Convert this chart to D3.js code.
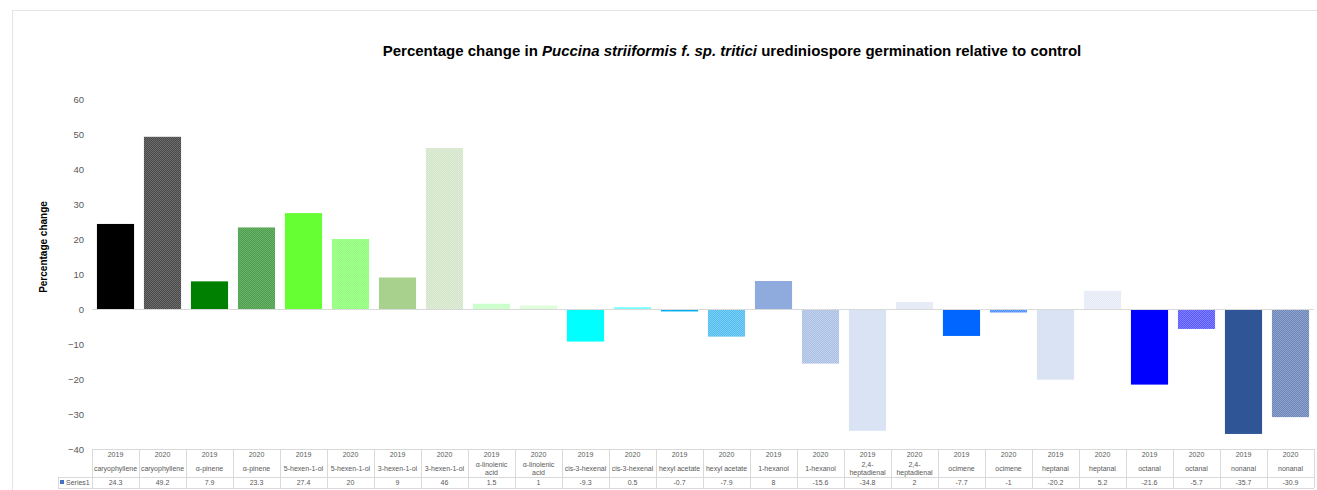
<!DOCTYPE html>
<html>
<head>
<meta charset="utf-8">
<script src="https://cdn.jsdelivr.net/npm/d3@7"></script>
<style>
  html, body { margin: 0; padding: 0; background: #fff; }
  svg { display: block; font-family: "Liberation Sans", Arial, sans-serif; }
</style>
</head>
<body>
<svg id="chart" width="1317" height="490"></svg>
<script>
// Germination change per compound and trial year
const years = ["2019","2020","2019","2020","2019","2020","2019","2020","2019","2020","2019","2020","2019","2020","2019","2020","2019","2020","2019","2020","2019","2020","2019","2020","2019","2020"];
const compounds = ["caryophyllene","caryophyllene","α-pinene","α-pinene","5-hexen-1-ol","5-hexen-1-ol","3-hexen-1-ol","3-hexen-1-ol","α-linolenic acid","α-linolenic acid","cis-3-hexenal","cis-3-hexenal","hexyl acetate","hexyl acetate","1-hexanol","1-hexanol","2,4-heptadienal","2,4-heptadienal","ocimene","ocimene","heptanal","heptanal","octanal","octanal","nonanal","nonanal"];
const values = [24.3,49.2,7.9,23.3,27.4,20,9,46,1.5,1,-9.3,0.5,-0.7,-7.9,8,-15.6,-34.8,2,-7.7,-1,-20.2,5.2,-21.6,-5.7,-35.7,-30.9];
const yTicks = [-40,-30,-20,-10,0,10,20,30,40,50,60];

// Bar fills: solid for 2019, two-tone checker for 2020
const solidColors = ["#000000",null,"#008000",null,"#66ff33",null,"#a9d18e",null,"#ccffcc",null,"#00ffff",null,"#00b0f0",null,"#8faadc",null,"#dae3f3",null,"#0066ff",null,"#dae3f3",null,"#0000ff",null,"#2f5597",null];
const checkerColors = [null,["#4a4a4a","#6c6c6c"],null,["#4d9f4d","#6bb26b"],null,["#8fff78","#a8ff98"],null,["#d3e5c9","#e0edd9"],null,["#d8fcd2","#e5fde1"],null,["#5cffff","#8effff"],null,["#52bdf0","#7ccdf3"],null,["#aabfe4","#c2d2ec"],null,["#e1e7f4","#ebeff8"],null,["#4a8eff","#74a9ff"],null,["#e3e9f5","#eef1f9"],null,["#5858ff","#8282ff"],null,["#6c86ba","#90a3cc"]];

const svg = d3.select("#chart");
const W = 1317, H = 490;
const plotLeft = 92, plotRight = 1314, plotTop = 99, plotBottom = 449;

// Outer frame
svg.append("rect").attr("x", 12.5).attr("y", 10.5).attr("width", W).attr("height", H)
  .attr("fill", "none").attr("stroke", "#e4e4e4");

const idx = d3.range(values.length);
const x = d3.scaleBand().domain(idx).range([plotLeft, plotRight]).paddingInner(0.21).paddingOuter(0.105);
const y = d3.scaleLinear().domain([-40, 60]).range([plotBottom, plotTop]);

// Checker patterns
const defs = svg.append("defs");
idx.forEach(i => {
  const c = checkerColors[i];
  if (!c) return;
  const p = defs.append("pattern").attr("id", "pat" + i)
    .attr("patternUnits", "userSpaceOnUse").attr("width", 2).attr("height", 2);
  p.append("rect").attr("width", 2).attr("height", 2).attr("fill", c[0]);
  p.append("rect").attr("x", 0).attr("y", 0).attr("width", 1).attr("height", 1).attr("fill", c[1]);
  p.append("rect").attr("x", 1).attr("y", 1).attr("width", 1).attr("height", 1).attr("fill", c[1]);
});

// Title
const title = svg.append("text").attr("x", 732).attr("y", 56).attr("text-anchor", "middle")
  .attr("font-size", 15).attr("font-weight", "bold").attr("fill", "#000");
title.append("tspan").text("Percentage change in ");
title.append("tspan").attr("font-style", "italic").text("Puccina striiformis f. sp. tritici");
title.append("tspan").text(" urediniospore germination relative to control");

// Y axis label
svg.append("text").attr("transform", `translate(47,${(plotTop + plotBottom) / 2 - 27}) rotate(-90)`)
  .attr("text-anchor", "middle").attr("font-size", 10).attr("font-weight", "bold").attr("fill", "#000")
  .text("Percentage change");

// Y axis ticks (labels only)
const yAxis = svg.append("g").attr("transform", `translate(${plotLeft},0)`)
  .call(d3.axisLeft(y).tickValues(yTicks).tickSize(0).tickPadding(8));
yAxis.select(".domain").remove();
yAxis.selectAll("text").attr("font-size", 9.5).attr("fill", "#595959").attr("font-family", "Liberation Sans, Arial, sans-serif");

// Bars
svg.append("g").selectAll("rect").data(idx).join("rect")
  .attr("x", i => x(i))
  .attr("width", x.bandwidth())
  .attr("y", i => y(Math.max(0, values[i])))
  .attr("height", i => Math.abs(y(values[i]) - y(0)))
  .attr("fill", i => checkerColors[i] ? `url(#pat${i})` : solidColors[i]);

// Zero line
svg.append("line").attr("x1", plotLeft).attr("x2", plotRight).attr("y1", y(0) + 0.5).attr("y2", y(0) + 0.5)
  .attr("stroke", "#d9d9d9").attr("stroke-width", 1);

// Data table under the axis
const step = x.step();
const colLeft = i => plotLeft + i * step;
const tableTop = plotBottom, headBottom = 477, tableBottom = 488, legendLeft = 58;
const grid = svg.append("g").attr("stroke", "#d9d9d9").attr("stroke-width", 1).attr("shape-rendering", "crispEdges");
grid.append("line").attr("x1", plotLeft).attr("x2", plotRight).attr("y1", tableTop).attr("y2", tableTop);
grid.append("line").attr("x1", legendLeft).attr("x2", plotRight).attr("y1", headBottom).attr("y2", headBottom);
grid.append("line").attr("x1", legendLeft).attr("x2", plotRight).attr("y1", tableBottom).attr("y2", tableBottom);
grid.append("line").attr("x1", legendLeft).attr("x2", legendLeft).attr("y1", headBottom).attr("y2", tableBottom);
d3.range(values.length + 1).forEach(i => {
  grid.append("line").attr("x1", colLeft(i)).attr("x2", colLeft(i)).attr("y1", tableTop).attr("y2", tableBottom);
});

const tbl = svg.append("g").attr("font-size", 7).attr("fill", "#595959").attr("text-anchor", "middle");
idx.forEach(i => {
  const cx = colLeft(i) + step / 2;
  tbl.append("text").attr("x", cx).attr("y", 457).text(years[i]);
  const name = compounds[i];
  let lines = [name];
  if (name === "α-linolenic acid") lines = ["α-linolenic", "acid"];
  if (name === "2,4-heptadienal") lines = ["2,4-", "heptadienal"];
  if (lines.length === 1) {
    tbl.append("text").attr("x", cx).attr("y", 470.5).text(lines[0]);
  } else {
    tbl.append("text").attr("x", cx).attr("y", 467).text(lines[0]);
    tbl.append("text").attr("x", cx).attr("y", 475).text(lines[1]);
  }
  tbl.append("text").attr("x", cx).attr("y", 485).text(values[i]);
});

// Legend key for the series row
svg.append("rect").attr("x", 60).attr("y", 480).attr("width", 4).attr("height", 4).attr("fill", "#4472c4");
svg.append("text").attr("x", 66).attr("y", 485).attr("font-size", 7).attr("fill", "#595959").text("Series1");
</script>
</body>
</html>
